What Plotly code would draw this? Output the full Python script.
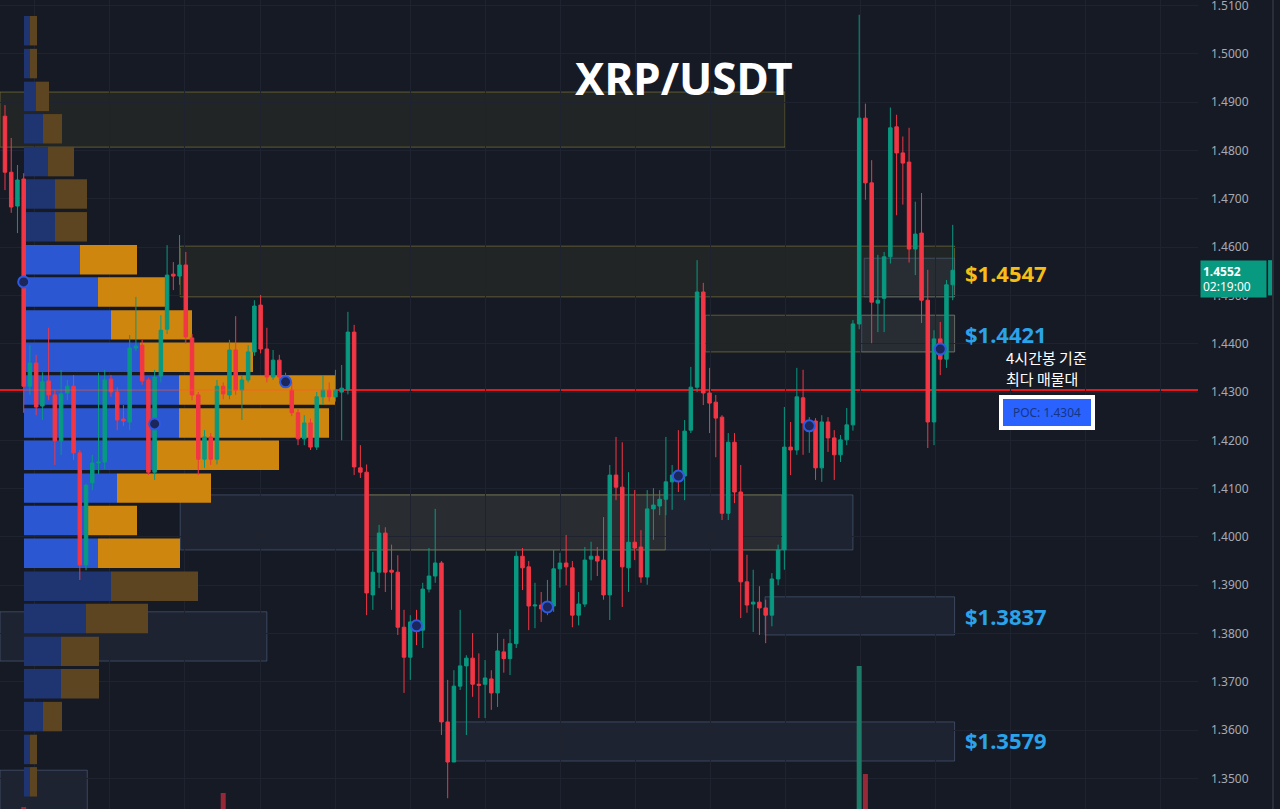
import plotly.graph_objects as go

# ---------------- data ----------------
# 4h candles, oldest -> newest (index = bar number)
opens = [1.4871,1.4755,1.4685,1.4741,1.4312,1.4360,1.4271,1.4323,1.4294,1.4199,
         1.4298,1.4312,1.4174,1.3942,1.4112,1.4153,1.4155,1.4327,1.4300,1.4244,
         1.4238,1.4391,1.4397,1.4325,1.4134,1.4333,1.4430,1.4544,1.4540,1.4563,
         1.4412,1.4294,1.4161,1.4207,1.4161,1.4312,1.4294,1.4387,1.4304,1.4325,
         1.4383,1.4480,1.4389,1.4331,1.4366,1.4331,1.4304,1.4257,1.4203,1.4236,
         1.4186,1.4290,1.4304,1.4290,1.4300,1.4304,1.4424,1.4143,1.4134,1.3880,
         1.3927,1.4008,1.3931,1.3927,1.3813,1.3751,1.3824,1.3807,1.3892,1.3919,
         1.3946,1.3617,1.3534,1.3691,1.3733,1.3749,1.3695,1.3695,1.3706,1.3677,
         1.3762,1.3748,1.3779,1.3960,1.3938,1.3857,1.3859,1.3851,1.3857,1.3934,
         1.3946,1.3936,1.3838,1.3861,1.3954,1.3960,1.3952,1.3880,1.4128,1.4103,
         1.3936,1.3989,1.3979,1.3917,1.4058,1.4064,1.4078,1.4114,1.4128,1.4126,
         1.4221,1.4310,1.4507,1.4298,1.4279,1.4248,1.4049,1.4196,1.4093,1.3907,
         1.3861,1.3865,1.3853,1.3838,1.3913,1.3973,1.4186,1.4180,1.4288,1.4236,
         1.4240,1.4143,1.4238,1.4205,1.4170,1.4201,1.4232,1.4441,1.4867,1.4733,
         1.4484,1.4494,1.4580,1.4849,1.4795,1.4776,1.4596,1.4629,1.4490,1.4238,
         1.4410,1.4368,1.4522]
highs = [1.4894,1.4826,1.4770,1.4753,1.4397,1.4377,1.4341,1.4433,1.4304,1.4346,
         1.4325,1.4335,1.4180,1.4110,1.4170,1.4340,1.4346,1.4335,1.4310,1.4273,
         1.4418,1.4497,1.4408,1.4330,1.4346,1.4459,1.4604,1.4569,1.4625,1.4590,
         1.4420,1.4300,1.4221,1.4215,1.4325,1.4320,1.4408,1.4457,1.4335,1.4397,
         1.4490,1.4501,1.4433,1.4387,1.4377,1.4340,1.4320,1.4265,1.4252,1.4245,
         1.4300,1.4335,1.4320,1.4346,1.4356,1.4466,1.4439,1.4190,1.4150,1.3969,
         1.4025,1.4020,1.3984,1.3962,1.3849,1.3838,1.3849,1.3905,1.3977,1.4058,
         1.3950,1.3704,1.3724,1.3849,1.3755,1.3801,1.3759,1.3745,1.3724,1.3801,
         1.3789,1.3809,1.3970,1.3977,1.3950,1.3905,1.3886,1.3911,1.3973,1.3967,
         1.4004,1.3950,1.3886,1.3979,1.3990,1.3979,1.4041,1.4149,1.4207,1.4196,
         1.4134,1.4097,1.4014,1.4097,1.4101,1.4097,1.4207,1.4149,1.4221,1.4242,
         1.4352,1.4573,1.4526,1.4350,1.4294,1.4252,1.4215,1.4215,1.4149,1.3963,
         1.3932,1.3898,1.3870,1.3925,1.3984,1.4269,1.4238,1.4350,1.4346,1.4248,
         1.4246,1.4252,1.4248,1.4221,1.4211,1.4267,1.4449,1.5081,1.4897,1.4780,
         1.4584,1.4590,1.4889,1.4874,1.4829,1.4847,1.4694,1.4712,1.4553,1.4428,
         1.4445,1.4532,1.4646]
lows = [1.4718,1.4671,1.4629,1.4257,1.4294,1.4252,1.4242,1.4283,1.4149,1.4170,
        1.4283,1.4159,1.3911,1.3931,1.4097,1.4130,1.4140,1.4290,1.4221,1.4230,
        1.4221,1.4385,1.4315,1.4128,1.4118,1.4320,1.4420,1.4511,1.4522,1.4400,
        1.4283,1.4128,1.4143,1.4149,1.4150,1.4285,1.4285,1.4294,1.4242,1.4320,
        1.4375,1.4380,1.4320,1.4325,1.4325,1.4310,1.4250,1.4190,1.4190,1.4180,
        1.4180,1.4273,1.4280,1.4280,1.4200,1.4295,1.4128,1.4122,1.3838,1.3849,
        1.3894,1.3886,1.3849,1.3797,1.3677,1.3704,1.3776,1.3770,1.3885,1.3905,
        1.3590,1.3459,1.3534,1.3683,1.3590,1.3669,1.3625,1.3625,1.3642,1.3648,
        1.3719,1.3714,1.3770,1.3890,1.3807,1.3811,1.3824,1.3838,1.3845,1.3895,
        1.3900,1.3813,1.3817,1.3855,1.3910,1.3919,1.3870,1.3828,1.4076,1.3855,
        1.3886,1.3952,1.3905,1.3901,1.3994,1.4045,1.4045,1.4056,1.4093,1.4076,
        1.4215,1.4300,1.4273,1.4215,1.4165,1.4035,1.4035,1.4070,1.3832,1.3843,
        1.3803,1.3797,1.3780,1.3815,1.3900,1.3932,1.4128,1.4170,1.4170,1.4174,
        1.4118,1.4114,1.4176,1.4118,1.4155,1.4190,1.4220,1.4430,1.4698,1.4401,
        1.4424,1.4424,1.4566,1.4666,1.4688,1.4568,1.4542,1.4443,1.4184,1.4190,
        1.4335,1.4350,1.4490]
closes = [1.4755,1.4683,1.4739,1.4312,1.4360,1.4269,1.4321,1.4294,1.4199,1.4296,
          1.4312,1.4174,1.3942,1.4107,1.4153,1.4155,1.4325,1.4300,1.4242,1.4240,
          1.4391,1.4395,1.4323,1.4134,1.4331,1.4428,1.4542,1.4540,1.4563,1.4414,
          1.4294,1.4161,1.4207,1.4161,1.4312,1.4296,1.4387,1.4304,1.4325,1.4383,
          1.4478,1.4389,1.4331,1.4366,1.4331,1.4320,1.4257,1.4203,1.4236,1.4186,
          1.4290,1.4304,1.4290,1.4304,1.4308,1.4424,1.4145,1.4134,1.3884,1.3927,
          1.4008,1.3927,1.3927,1.3813,1.3751,1.3824,1.3818,1.3892,1.3919,1.3946,
          1.3617,1.3534,1.3691,1.3733,1.3749,1.3695,1.3693,1.3708,1.3677,1.3764,
          1.3748,1.3779,1.3960,1.3936,1.3857,1.3859,1.3851,1.3857,1.3934,1.3946,
          1.3938,1.3838,1.3861,1.3952,1.3960,1.3950,1.3880,1.4128,1.4103,1.3938,
          1.3989,1.3977,1.3917,1.4058,1.4066,1.4078,1.4114,1.4128,1.4124,1.4219,
          1.4310,1.4507,1.4298,1.4277,1.4246,1.4049,1.4196,1.4093,1.3907,1.3859,
          1.3865,1.3853,1.3838,1.3913,1.3973,1.4186,1.4180,1.4290,1.4236,1.4240,
          1.4143,1.4238,1.4205,1.4170,1.4201,1.4232,1.4441,1.4867,1.4733,1.4486,
          1.4490,1.4580,1.4847,1.4795,1.4774,1.4596,1.4627,1.4490,1.4238,1.4410,
          1.4368,1.4522,1.4552]

# session markers (bar index, price)
marker_idx = [3, 24, 45, 66, 87, 108, 129, 150]
marker_price = [1.4528, 1.4234, 1.4321, 1.3816, 1.3855, 1.4126, 1.4230, 1.4389]

# visible volume bars (bar index, volume in M)
vol_idx = [3, 35, 137, 138]
vol_val = [0.4, 3.2, 28.6, 7.0]
vol_up = [False, False, True, False]

# volume profile rows (price bin centres, up / down volume in M)
vp_price = [1.5048, 1.4980, 1.4912, 1.4845, 1.4777, 1.4710, 1.4642, 1.4574,
            1.4507, 1.4439, 1.4372, 1.4304, 1.4236, 1.4169, 1.4101, 1.4034,
            1.3966, 1.3898, 1.3831, 1.3763, 1.3696, 1.3628, 1.3560, 1.3493]
vp_up = [0.6, 0.6, 1.2, 1.9, 2.4, 3.1, 3.1, 5.6, 7.4, 8.7, 11.6, 15.5,
         15.5, 13.2, 9.3, 6.4, 7.4, 8.7, 6.2, 3.7, 3.7, 1.9, 0.6, 0.6]
vp_down = [0.7, 0.7, 1.3, 1.9, 2.6, 3.2, 3.2, 5.7, 6.7, 8.1, 11.3, 15.6,
           15.0, 12.3, 9.4, 4.9, 8.2, 8.7, 6.2, 3.8, 3.8, 1.9, 0.7, 0.7]
vp_value_area = [False]*7 + [True]*10 + [False]*7

poc_price = 1.4304
last_price = 1.4552
countdown = "02:19:00"

# zones: (kind, start bar, end bar, low, high)
zones = [
    ("ob", -0.8, 125.1, 1.4807, 1.4921),
    ("ob", 28.1, 152.3, 1.4497, 1.4602),
    ("fvg", 137.8, 152.3, 1.4497, 1.4577),
    ("ob", 112.3, 152.3, 1.4383, 1.4459),
    ("fvg", 137.4, 152.3, 1.4383, 1.4459),
    ("fvg", 28.1, 136.0, 1.3973, 1.4087),
    ("ob", 58.2, 105.9, 1.3973, 1.4087),
    ("ob", 118.2, 124.6, 1.3973, 1.4087),
    ("fvg", -0.8, 42.0, 1.3743, 1.3845),
    ("fvg", 121.9, 152.3, 1.3797, 1.3876),
    ("fvg", 72.0, 152.3, 1.3536, 1.3617),
    ("fvg", -0.8, 13.2, 1.3420, 1.3517),
]

level_labels = ["$1.4547", "$1.4421", "$1.3837", "$1.3579"]
level_prices = [1.4547, 1.4421, 1.3837, 1.3579]
level_colors = ["#f5bd16", "#2aa3ea", "#2aa3ea", "#2aa3ea"]

note_lines = ["4시간봉 기준", "최다 매물대"]

# ---------------- styling ----------------
BG = "#161a25"
GRID = "#1f2330"
UP = "#089981"
DOWN = "#f23645"
n = len(opens)
idx = list(range(n))

fig = go.Figure()

# volume profile (base axes x / y)
fig.add_trace(go.Bar(
    orientation="h", y=vp_price, x=vp_up, width=0.0061,
    marker=dict(color=["#2b57d3" if v else "#1f3572" for v in vp_value_area], line=dict(width=0)),
    xaxis="x", yaxis="y", hoverinfo="skip", showlegend=False))
fig.add_trace(go.Bar(
    orientation="h", y=vp_price, x=vp_down, base=vp_up, width=0.0061,
    marker=dict(color=["#cf860f" if v else "#5c4520" for v in vp_value_area], line=dict(width=0)),
    xaxis="x", yaxis="y", hoverinfo="skip", showlegend=False))

# candles (overlay x2)
fig.add_trace(go.Candlestick(
    x=idx, open=opens, high=highs, low=lows, close=closes,
    increasing=dict(line=dict(color=UP, width=1), fillcolor=UP),
    decreasing=dict(line=dict(color=DOWN, width=1), fillcolor=DOWN),
    whiskerwidth=0, xaxis="x2", yaxis="y", showlegend=False, hoverinfo="skip"))

# volume bars
fig.add_trace(go.Bar(
    x=vol_idx, y=vol_val, width=0.8,
    marker=dict(color=["#1d7a66" if u else "#962837" for u in vol_up], line=dict(width=0)),
    xaxis="x2", yaxis="y2", showlegend=False, hoverinfo="skip"))

# session markers
fig.add_trace(go.Scatter(
    x=marker_idx, y=marker_price, mode="markers",
    marker=dict(size=11, color="#1b275a", line=dict(color="#2f5ae0", width=2)),
    xaxis="x2", yaxis="y", showlegend=False, hoverinfo="skip"))

shapes = []
for kind, x0, x1, lo, hi in zones:
    if kind == "ob":
        fill, line = "rgba(150,140,50,0.10)", "rgba(150,140,60,0.55)"
    else:
        fill, line = "rgba(90,110,150,0.12)", "rgba(100,120,155,0.45)"
    shapes.append(dict(type="rect", xref="x2", yref="y", x0=x0, x1=x1, y0=lo, y1=hi,
                       fillcolor=fill, line=dict(color=line, width=1), layer="below"))
# POC line
shapes.append(dict(type="line", xref="x2", yref="y", x0=-0.8, x1=191.4, y0=poc_price, y1=poc_price,
                   line=dict(color="#e8161c", width=2), layer="below"))
shapes.append(dict(type="line", xref="x", yref="y", x0=0, x1=vp_up[11] + vp_down[11],
                   y0=poc_price, y1=poc_price, line=dict(color="rgba(255,90,40,0.6)", width=1),
                   layer="above"))
# price-scale decorations
shapes.append(dict(type="line", xref="paper", yref="paper", x0=1.0626, x1=1.0626, y0=0, y1=1,
                   line=dict(color="#2a2e39", width=2)))
shapes.append(dict(type="rect", xref="paper", yref="y", x0=1.0585, x1=1.0618,
                   y0=last_price - 0.0052, y1=last_price + 0.0021,
                   fillcolor=UP, line=dict(width=0)))

annotations = [
    dict(text="XRP/USDT", xref="paper", yref="paper", x=0.571, y=0.904,
         showarrow=False, font=dict(family="Noto Sans", size=44, color="white", weight="bold"),
         xanchor="center", yanchor="middle"),
    dict(text=note_lines[0], xref="x2", yref="y", x=160.2, y=1.4371,
         showarrow=False, xanchor="left", yanchor="middle",
         font=dict(family="Noto Sans CJK KR", size=15, color="white")),
    dict(text=note_lines[1], xref="x2", yref="y", x=160.2, y=1.4329,
         showarrow=False, xanchor="left", yanchor="middle",
         font=dict(family="Noto Sans CJK KR", size=15, color="white")),
    dict(text="POC: %.4f" % poc_price, xref="paper", yref="paper", x=0.874, y=0.490,
         showarrow=False, font=dict(family="Noto Sans", size=12, color="#173585"),
         bgcolor="#2962ff", bordercolor="white", borderwidth=4, borderpad=0,
         width=88, height=27, xanchor="center", yanchor="middle"),
    dict(text="<b>%.4f</b><br>%s" % (last_price, countdown), xref="paper", yref="y",
         x=1.0, y=last_price, xanchor="left", yanchor="top", xshift=2, yshift=10,
         showarrow=False, align="left",
         font=dict(family="Noto Sans", size=12, color="white"),
         bgcolor=UP, borderpad=2, width=61, height=32),
]
for txt, p, c in zip(level_labels, level_prices, level_colors):
    annotations.append(dict(text=txt, xref="x2", yref="y", x=153.6, y=p,
                            xanchor="left", yanchor="middle", showarrow=False,
                            font=dict(family="Noto Sans", size=22, color=c, weight="bold")))

fig.update_layout(
    width=1280, height=809, autosize=False,
    margin=dict(l=0, r=82, t=0, b=0),
    paper_bgcolor=BG, plot_bgcolor=BG,
    barmode="overlay", boxgap=0.2,
    shapes=shapes, annotations=annotations,
    xaxis=dict(range=[-2.4, 117.4], visible=False, fixedrange=True),
    xaxis2=dict(overlaying="x", range=[-0.8, 191.34], showticklabels=False, showgrid=True,
                gridcolor=GRID, gridwidth=1, tick0=4.81, dtick=12.03, zeroline=False,
                showline=False, ticks="", rangeslider=dict(visible=False)),
    yaxis=dict(side="right", range=[1.34367, 1.51116], tick0=1.35, dtick=0.01,
               tickformat=".4f", showgrid=True, gridcolor=GRID, zeroline=False,
               showline=False, ticks="", automargin=False, ticklabelstandoff=12,
               ticklabeloverflow="allow",
               tickfont=dict(family="Noto Sans", size=12, color="#a7aab3")),
    yaxis2=dict(overlaying="y", range=[0, 161.8], visible=False),
)

fig.write_html(
    "out.html",
    config={"displayModeBar": False},
    post_script="document.body.style.margin='0';document.body.style.background='%s';" % BG,
)
